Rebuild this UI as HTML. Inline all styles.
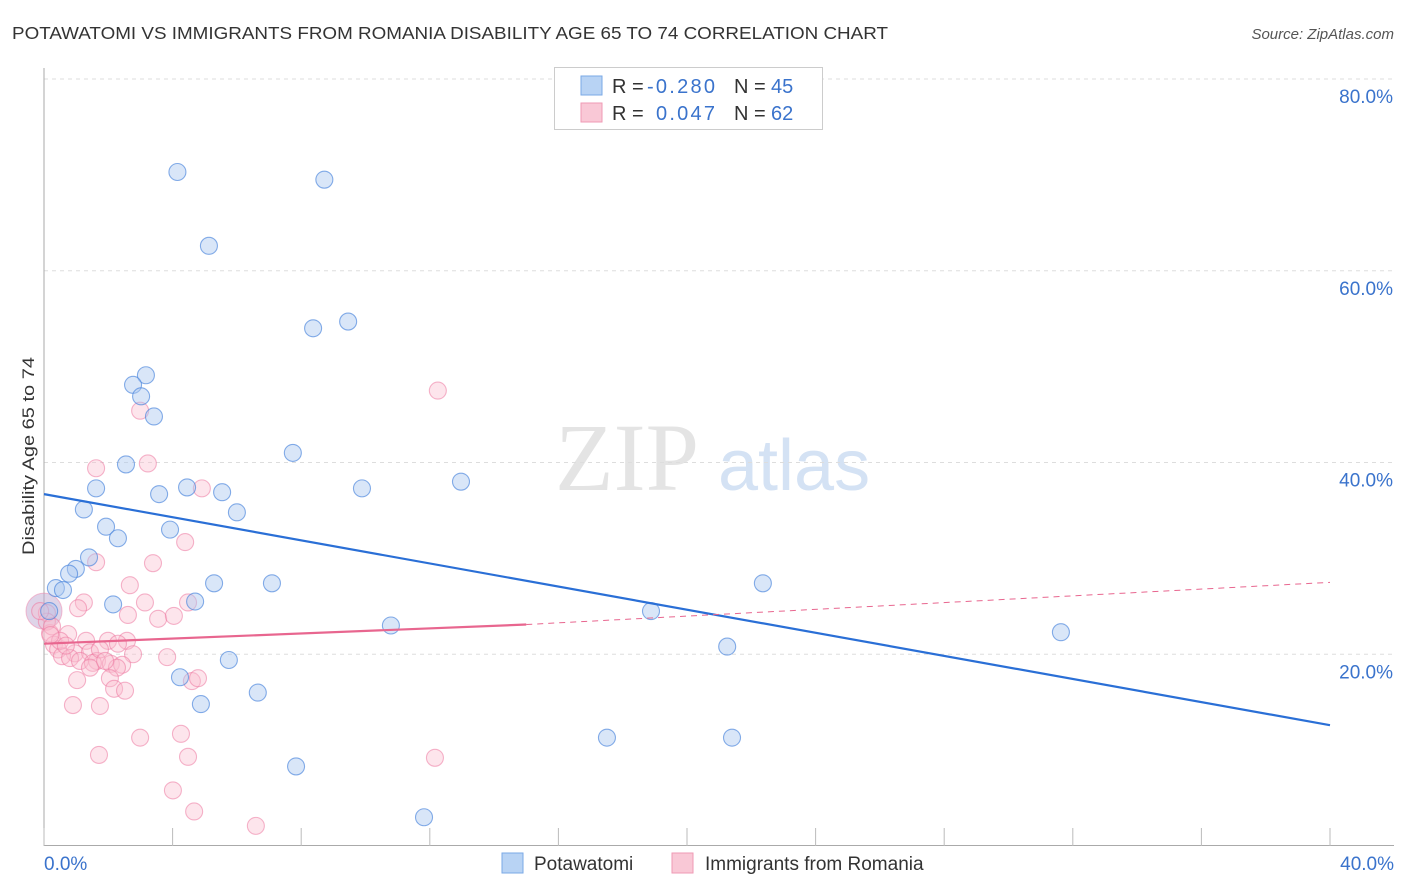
<!DOCTYPE html>
<html><head><meta charset="utf-8">
<style>
body{margin:0;background:#fff;font-family:"Liberation Sans",sans-serif;}
#wrap{position:relative;width:1406px;height:892px;overflow:hidden;}
</style></head>
<body>
<div id="wrap">
<svg id="svg" width="1406" height="892" xmlns="http://www.w3.org/2000/svg">
<text x="12" y="39" font-size="17.5" fill="#333" textLength="876" lengthAdjust="spacingAndGlyphs">POTAWATOMI VS IMMIGRANTS FROM ROMANIA DISABILITY AGE 65 TO 74 CORRELATION CHART</text>
<text x="1394" y="39" font-size="15" fill="#555" font-style="italic" text-anchor="end">Source: ZipAtlas.com</text>
<text x="34" y="456" font-size="17" fill="#333" text-anchor="middle" textLength="198" lengthAdjust="spacingAndGlyphs" transform="rotate(-90 34 456)">Disability Age 65 to 74</text>
<text x="555" y="490" font-size="96" fill="#e4e4e4" font-family="Liberation Serif">ZIP</text>
<text x="718" y="490" font-size="72" fill="#d4e2f4">atlas</text>
<g id="grid"></g><g id="marks"></g>
<g>
<rect x="554.5" y="67.5" width="268" height="62" fill="#fff" stroke="#ccc"/>
<rect x="581" y="76" width="21" height="19" fill="#b8d3f4" stroke="#7aa8e6"/>
<rect x="581" y="103" width="21" height="19" fill="#f9c8d6" stroke="#ef9ab4"/>
<text x="612" y="93" font-size="20" fill="#333">R =</text><text x="647" y="93" font-size="20" fill="#3a73cc" textLength="68">-0.280</text>
<text x="734" y="93" font-size="20" fill="#333">N =</text><text x="771" y="93" font-size="20" fill="#3a73cc">45</text>
<text x="612" y="120" font-size="20" fill="#333">R =</text><text x="656" y="120" font-size="20" fill="#3a73cc" textLength="59">0.047</text>
<text x="734" y="120" font-size="20" fill="#333">N =</text><text x="771" y="120" font-size="20" fill="#3a73cc">62</text>
</g>
<g>
<rect x="502" y="853" width="21" height="20" fill="#b8d3f4" stroke="#7aa8e6"/>
<text x="534" y="870" font-size="19" fill="#333">Potawatomi</text>
<rect x="672" y="853" width="21" height="20" fill="#f9c8d6" stroke="#ef9ab4"/>
<text x="705" y="870" font-size="19" fill="#333">Immigrants from Romania</text>
</g>
</svg>
</div>
<script>
const xTicks=[0,4,8,12,16,20,24,28,32,36,40];
const yTicks=[20,40,60,80];
const blueX=[4.15,8.72,5.13,8.37,9.46,3.17,2.77,3.02,3.42,2.55,7.74,1.62,4.45,3.58,5.54,9.89,12.97,1.24,6.0,1.93,3.92,2.3,1.4,0.99,0.78,0.37,0.59,5.29,7.09,22.36,2.15,4.7,18.88,0.16,10.79,31.63,21.25,5.75,4.23,6.65,4.88,17.51,21.4,7.84,11.82];
const blueY=[70.3,69.5,62.6,54.0,54.7,49.1,48.1,46.9,44.8,39.8,41.0,37.3,37.4,36.7,36.9,37.3,38.0,35.1,34.8,33.3,33.0,32.1,30.1,28.9,28.4,26.9,26.7,27.4,27.4,27.4,25.2,25.5,24.5,24.5,23.0,22.3,20.8,19.4,17.6,16.0,14.8,11.3,11.3,8.3,3.0];
const pinkX=[12.25,2.99,3.23,1.62,4.91,4.39,1.62,3.39,2.67,1.24,3.14,4.48,1.06,2.61,3.55,4.04,0.09,0.19,0.75,1.31,1.99,2.58,2.3,0.31,0.44,0.96,1.43,2.77,0.56,0.81,1.12,1.65,2.08,2.43,1.52,3.83,2.27,1.43,1.03,2.05,4.6,4.79,2.18,2.52,0.9,1.74,2.99,4.26,1.71,4.48,12.16,4.01,4.67,6.59,0.09,0.25,0.5,1.74,1.9,0.68,-0.12,0.2];
const pinkY=[47.5,45.4,39.9,39.4,37.3,31.7,29.6,29.5,27.2,25.4,25.4,25.4,24.8,24.1,23.7,24.0,24.3,22.2,22.1,21.4,21.4,21.4,21.1,21.0,20.5,20.1,20.2,20.0,19.8,19.6,19.3,19.3,19.0,18.9,19.1,19.7,18.6,18.6,17.3,17.5,17.2,17.5,16.4,16.2,14.7,14.6,11.3,11.7,9.5,9.3,9.2,5.8,3.6,2.1,23.4,22.9,21.4,20.5,19.3,20.9,24.5,22.0];
const blueTrendX=[0,40];const blueTrendY=[36.7,12.6];
const pinkTrendX=[0,15,40];const pinkTrendY=[21.1,23.1,27.5];
const X0=44,X1=1330,Y0=846,PXY=767/80;
const sx=v=>X0+(v/40)*(X1-X0), sy=v=>Y0-v*PXY;
const NS='http://www.w3.org/2000/svg';
function mk(tag,attrs,parent){const e=document.createElementNS(NS,tag);for(const k in attrs)e.setAttribute(k,attrs[k]);parent.appendChild(e);return e;}
const grid=document.getElementById('grid'),marks=document.getElementById('marks');
yTicks.forEach(t=>{
 const l=mk('line',{x1:44,x2:1394,y1:sy(t),y2:sy(t),stroke:'#ddd','stroke-dasharray':'4,4'},grid);
 
 
 const tx=mk('text',{x:1393,y:sy(t)+24,'font-size':19,fill:'#3a73cc','text-anchor':'end'},grid);
 tx.textContent=t.toFixed(1)+'%';
 
 
});
const ax=mk('line',{x1:44,x2:44,y1:68,y2:846,stroke:'#aaa'},grid);


const bx=mk('line',{x1:44,x2:1394,y1:845.5,y2:845.5,stroke:'#aaa'},grid);


xTicks.forEach(t=>{
 const l=mk('line',{x1:sx(t),x2:sx(t),y1:828,y2:846,stroke:'#bbb'},grid);
 
 
});
[[0,'start',44],[40,'end',1394]].forEach(([t,a,x])=>{
 const tx=mk('text',{x:x,y:870,'font-size':19,fill:'#3a73cc','text-anchor':a},grid);
 tx.textContent=t.toFixed(1)+'%';
 
 
});
const big1=mk('circle',{cx:sx(0),cy:sy(24.5),r:18,fill:'rgba(190,170,210,0.5)',stroke:'rgba(239,130,170,0.5)'},marks);


pinkX.forEach((x,i)=>{
 const c=mk('circle',{cx:sx(x),cy:sy(pinkY[i]),r:8.5,fill:'rgba(249,190,208,0.4)',stroke:'rgba(236,120,160,0.55)','stroke-width':1.1},marks);
 
 
});
blueX.forEach((x,i)=>{
 const c=mk('circle',{cx:sx(x),cy:sy(blueY[i]),r:8.5,fill:'rgba(170,200,240,0.45)',stroke:'rgba(70,130,220,0.65)','stroke-width':1.1},marks);
 
 
});
const bt=mk('line',{x1:sx(blueTrendX[0]),y1:sy(blueTrendY[0]),x2:sx(blueTrendX[1]),y2:sy(blueTrendY[1]),stroke:'#2a6fd6','stroke-width':2.2},marks);


const pt=mk('line',{x1:sx(pinkTrendX[0]),y1:sy(pinkTrendY[0]),x2:sx(pinkTrendX[1]),y2:sy(pinkTrendY[1]),stroke:'#e8668f','stroke-width':2.2},marks);


const pd=mk('line',{x1:sx(pinkTrendX[1]),y1:sy(pinkTrendY[1]),x2:sx(pinkTrendX[2]),y2:sy(pinkTrendY[2]),stroke:'#e8668f','stroke-width':1,'stroke-dasharray':'6,5'},marks);


</script>
</body></html>
